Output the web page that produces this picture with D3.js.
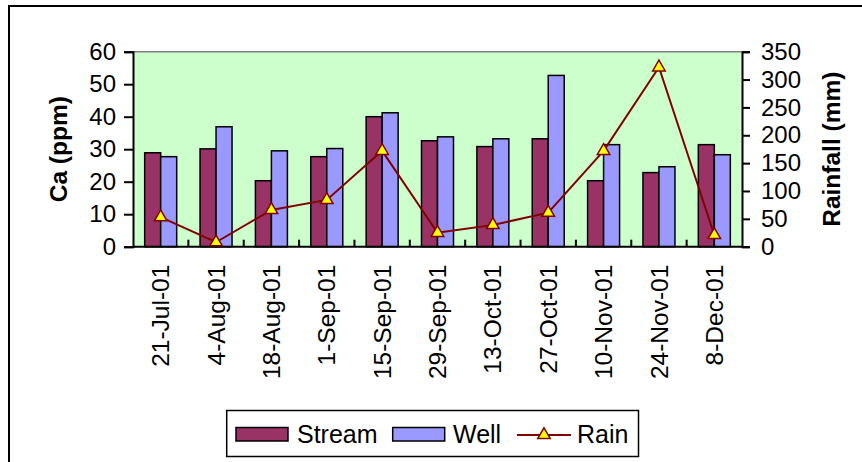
<!DOCTYPE html>
<html>
<head>
<meta charset="utf-8">
<script src="https://cdn.jsdelivr.net/npm/d3@7/dist/d3.min.js"></script>
<style>
  html, body { margin: 0; padding: 0; background: #fff; }
  svg { display: block; }
  text { font-family: "Liberation Sans", Arial, sans-serif; fill: #000; }
</style>
</head>
<body>
<svg id="chart" width="862" height="462"></svg>
<script>
// Sampling dates (2001)
const dates = ["21-Jul-01", "4-Aug-01", "18-Aug-01", "1-Sep-01", "15-Sep-01", "29-Sep-01",
               "13-Oct-01", "27-Oct-01", "10-Nov-01", "24-Nov-01", "8-Dec-01"];
// Calcium concentration, ppm
const stream = [28.9, 30.1, 20.3, 27.7, 40.0, 32.6, 30.8, 33.2, 20.3, 22.8, 31.4];
const well   = [27.7, 36.9, 29.5, 30.2, 41.2, 33.8, 33.2, 52.7, 31.4, 24.6, 28.3];
// Rainfall, mm
const rain   = [53, 8, 66, 84, 172, 25, 39, 61, 172, 322, 21];

const caTicks = [0, 10, 20, 30, 40, 50, 60];
const rainTicks = [0, 50, 100, 150, 200, 250, 300, 350];
const seriesNames = ["Stream", "Well"];
const seriesColors = { Stream: "#993366", Well: "#9999FF" };

const svg = d3.select("#chart");
const plot = { left: 133, right: 742, top: 51.7, bottom: 246.7 };

// Outer chart frame
svg.append("rect")
  .attr("x", 9).attr("y", 6).attr("width", 870).attr("height", 470)
  .attr("fill", "#fff").attr("stroke", "#000").attr("stroke-width", 2);

const x = d3.scaleBand().domain(dates).range([plot.left, plot.right])
  .paddingInner(0.422).paddingOuter(0.211);
const xs = d3.scaleBand().domain(seriesNames).range([0, x.bandwidth()]);
const yL = d3.scaleLinear().domain([0, 60]).range([plot.bottom, plot.top]);
const yR = d3.scaleLinear().domain([0, 350]).range([plot.bottom, plot.top]);

// Plot area
svg.append("rect")
  .attr("x", plot.left).attr("y", plot.top)
  .attr("width", plot.right - plot.left).attr("height", plot.bottom - plot.top)
  .attr("fill", "#CCFFCC");
svg.append("line")
  .attr("x1", plot.left).attr("x2", plot.right)
  .attr("y1", plot.top).attr("y2", plot.top)
  .attr("stroke", "#808080").attr("stroke-width", 1.5);

// Bars
const rows = dates.map((d, i) => ({ date: d, Stream: stream[i], Well: well[i] }));
const groups = svg.append("g").selectAll("g").data(rows).join("g")
  .attr("transform", d => `translate(${x(d.date)},0)`);
groups.selectAll("rect")
  .data(d => seriesNames.map(k => ({ key: k, value: d[k] })))
  .join("rect")
  .attr("x", d => xs(d.key))
  .attr("y", d => yL(d.value))
  .attr("width", xs.bandwidth())
  .attr("height", d => yL(0) - yL(d.value))
  .attr("fill", d => seriesColors[d.key])
  .attr("stroke", "#000").attr("stroke-width", 1.5);

// Left axis
const axL = svg.append("g").attr("transform", `translate(${plot.left},0)`)
  .call(d3.axisLeft(yL).tickValues(caTicks).tickSize(9).tickPadding(8));
// Right axis
const axR = svg.append("g").attr("transform", `translate(${plot.right},0)`)
  .call(d3.axisRight(yR).tickValues(rainTicks).tickSize(8).tickPadding(11));
[axL, axR].forEach(a => {
  a.select(".domain").attr("stroke", "#000").attr("stroke-width", 2);
  a.selectAll(".tick line").attr("stroke", "#000").attr("stroke-width", 2);
  a.selectAll(".tick text")
    .style("font-family", '"Liberation Sans", Arial, sans-serif')
    .style("font-size", "24px").attr("fill", "#000");
});

// Bottom axis with category separators pointing inward
const step = x.step();
const sepTicks = d3.range(1, dates.length);
svg.append("g").selectAll("line").data(sepTicks).join("line")
  .attr("x1", i => plot.left + i * step).attr("x2", i => plot.left + i * step)
  .attr("y1", plot.bottom).attr("y2", plot.bottom - 7)
  .attr("stroke", "#000").attr("stroke-width", 2);
svg.append("line")
  .attr("x1", plot.left).attr("x2", plot.right)
  .attr("y1", plot.bottom).attr("y2", plot.bottom)
  .attr("stroke", "#000").attr("stroke-width", 2);

// Category labels, rotated
svg.append("g").selectAll("text").data(dates).join("text")
  .attr("transform", d => `translate(${x(d) + x.bandwidth() / 2},${plot.bottom + 18}) rotate(-90)`)
  .attr("text-anchor", "end")
  .attr("dy", "0.35em")
  .style("font-size", "24.5px")
  .text(d => d);

// Rain line and markers
const rainPts = dates.map((d, i) => [x(d) + x.bandwidth() / 2, yR(rain[i])]);
svg.append("path")
  .attr("d", d3.line()(rainPts))
  .attr("fill", "none").attr("stroke", "#800000").attr("stroke-width", 2);
const tri = d3.symbol().type(d3.symbolTriangle).size(68);
svg.append("g").selectAll("path").data(rainPts).join("path")
  .attr("transform", d => `translate(${d[0]},${d[1]})`)
  .attr("d", tri())
  .attr("fill", "#FFFF00").attr("stroke", "#800000").attr("stroke-width", 1.5);

// Axis titles
svg.append("text")
  .attr("transform", `translate(58,${(plot.top + plot.bottom) / 2}) rotate(-90)`)
  .attr("text-anchor", "middle").attr("dy", "0.35em")
  .style("font-size", "24.5px").style("font-weight", "bold")
  .text("Ca (ppm)");
svg.append("text")
  .attr("transform", `translate(831,${(plot.top + plot.bottom) / 2}) rotate(-90)`)
  .attr("text-anchor", "middle").attr("dy", "0.35em")
  .style("font-size", "24.5px").style("font-weight", "bold")
  .text("Rainfall (mm)");

// Legend
const lg = svg.append("g");
lg.append("rect")
  .attr("x", 226.7).attr("y", 410.5).attr("width", 411.8).attr("height", 46)
  .attr("fill", "#fff").attr("stroke", "#000").attr("stroke-width", 1.5);
const legendItems = [
  { name: "Stream", sx: 236, tx: 297 },
  { name: "Well", sx: 392.7, tx: 453 }
];
legendItems.forEach(it => {
  lg.append("rect")
    .attr("x", it.sx).attr("y", 427.5).attr("width", 52).attr("height", 13.5)
    .attr("fill", seriesColors[it.name]).attr("stroke", "#000").attr("stroke-width", 1.5);
  lg.append("text").attr("x", it.tx).attr("y", 443)
    .style("font-size", "25px").text(it.name);
});
lg.append("line")
  .attr("x1", 517).attr("x2", 571).attr("y1", 435).attr("y2", 435)
  .attr("stroke", "#800000").attr("stroke-width", 2);
lg.append("path")
  .attr("transform", "translate(544,435)")
  .attr("d", tri())
  .attr("fill", "#FFFF00").attr("stroke", "#800000").attr("stroke-width", 1.5);
lg.append("text").attr("x", 577).attr("y", 443)
  .style("font-size", "25px").text("Rain");
</script>
</body>
</html>
